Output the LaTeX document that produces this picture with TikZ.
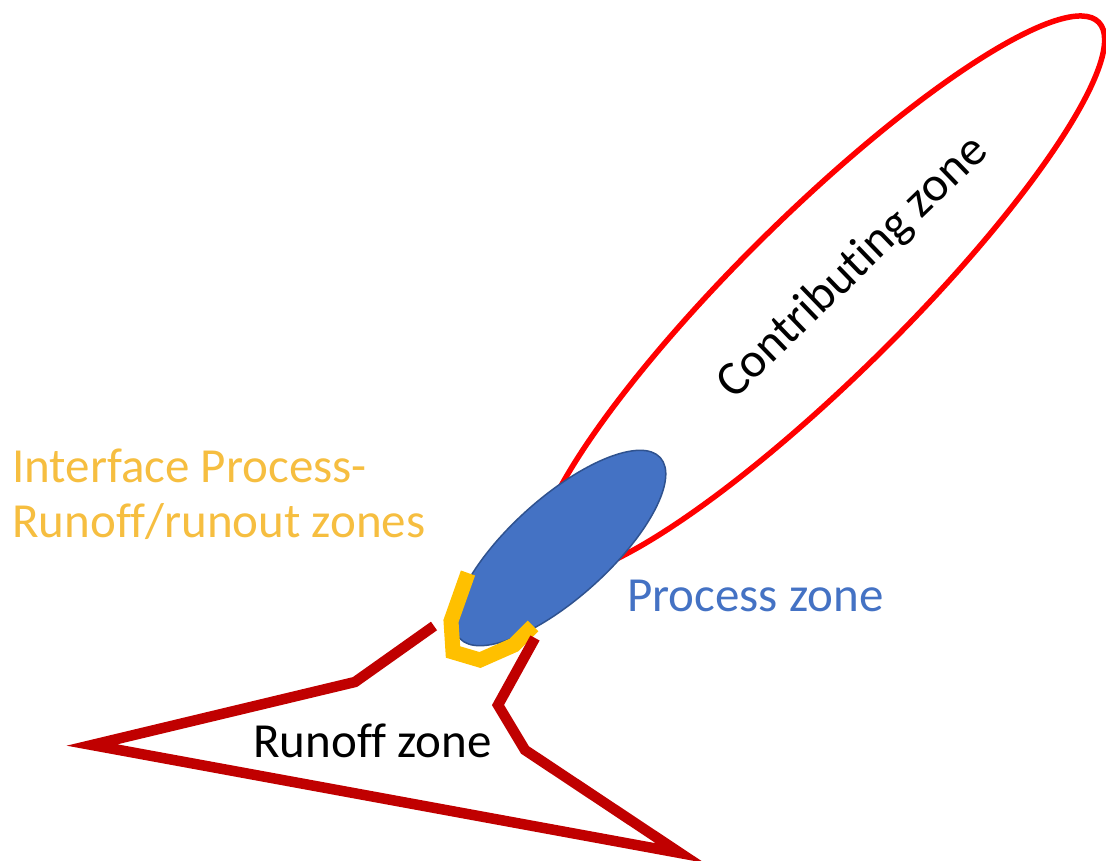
\documentclass[tikz,border=0pt]{standalone}
\usepackage{fontspec}
\setmainfont{Carlito}[Ligatures=NoCommon]
\definecolor{zonered}{RGB}{255,0,0}
\definecolor{darkred}{RGB}{192,0,0}
\definecolor{gold}{RGB}{255,192,0}
\definecolor{goldtext}{RGB}{246,190,64}
\definecolor{procblue}{RGB}{68,114,196}
\definecolor{procedge}{RGB}{47,82,143}
\tikzset{
  label/.style={inner sep=0pt, font=\fontsize{49}{55}\selectfont},
}
\begin{document}
\begin{tikzpicture}[x=1pt,y=-1pt]
\useasboundingbox (0,0) rectangle (1106,861);

% contributing zone
\draw[zonered, line width=5.5pt, rotate around={44.6:(821,296)}]
  (821,296) ellipse [x radius=390pt, y radius=82pt];

% process zone
\draw[procedge, fill=procblue, line width=1.5pt, rotate around={42:(560,548)}]
  (560,548) ellipse [x radius=135pt, y radius=50pt];

% interface between process and runoff zones
\draw[gold, line width=15pt, line join=miter]
  (468,573) -- (451,621) -- (453,652) -- (480,660) -- (514,645) -- (533,626);

% runoff zone outline
\draw[darkred, line width=10.5pt, line join=miter]
  (535,638) -- (498,705) -- (525,750) -- (680,853) -- (92,745) -- (355,682) -- (434,626);

% labels
\node[label, rotate=44] (contrib) at (853,268) {Contributing zone};
\node[label, text=procblue, anchor=base west] (proc) at (627,611) {Process zone};
\node[label, anchor=base west] (runoff) at (253,757) {Runoff zone};
\node[label, text=goldtext, anchor=base west, align=left] (iface) at (12,537)
  {Interface Process-\\Runoff/runout zones};
\end{tikzpicture}
\end{document}
